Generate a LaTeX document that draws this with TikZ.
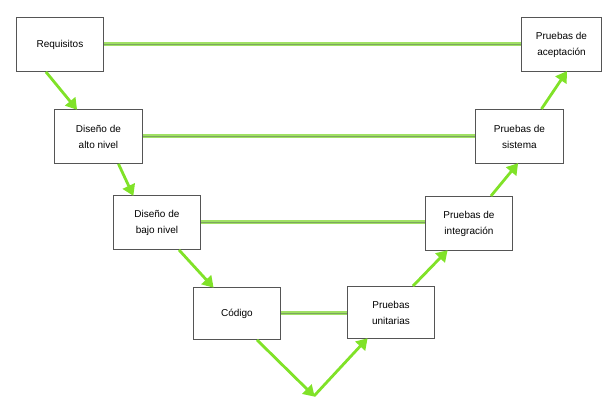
\documentclass[tikz,border=0pt]{standalone}
\usepackage{fontspec}
\setmainfont{Liberation Sans}
\usetikzlibrary{arrows.meta}
\definecolor{arrowgreen}{RGB}{128,226,40}
\definecolor{lineedge}{RGB}{160,225,100}
\definecolor{linecore}{RGB}{125,165,95}
\definecolor{boxline}{RGB}{85,85,85}
\tikzset{
  stage/.style={draw=boxline, line width=0.9pt, fill=white, align=center,
    font=\fontsize{10}{16}\selectfont, inner sep=0pt, anchor=north west},
  flow/.style={draw=arrowgreen, line width=2.8pt,
    -{Triangle[length=11pt,width=13pt]}, shorten >=-1pt},
  link/.style={draw=lineedge, line width=4pt},
  linkcore/.style={draw=linecore, line width=1.4pt},
}
\begin{document}
\begin{tikzpicture}[x=1pt,y=-1pt]
\useasboundingbox (0,0) rectangle (602,399);
\node[stage, minimum width=87pt, minimum height=54pt] (req) at (16,17) {Requisitos};
\node[stage, minimum width=80pt, minimum height=54pt] (acep) at (521,17) {Pruebas de\\aceptación};
\node[stage, minimum width=88pt, minimum height=54pt] (alto) at (54,109) {Diseño de\\alto nivel};
\node[stage, minimum width=88pt, minimum height=54pt] (sist) at (475,109) {Pruebas de\\sistema};
\node[stage, minimum width=87pt, minimum height=54pt] (bajo) at (113,195) {Diseño de\\bajo nivel};
\node[stage, minimum width=87pt, minimum height=54pt] (integ) at (425,196) {Pruebas de\\integración};
\node[stage, minimum width=87pt, minimum height=52pt] (cod) at (193,287) {Código};
\node[stage, minimum width=87pt, minimum height=52pt] (unit) at (347,286) {Pruebas\\unitarias};
\coordinate (v) at (314,396);
% links
\foreach \a/\b in {req/acep, alto/sist, bajo/integ, cod/unit}{
  \path[link] (\a.east) -- (\a.east -| \b.west);
  \path[linkcore] (\a.east) -- (\a.east -| \b.west);
}
% arrows
\path[flow] ([xshift=-14pt]req.south) -- ([xshift=-22pt]alto.north);
\path[flow] ([xshift=20pt]alto.south) -- ([xshift=-24pt]bajo.north);
\path[flow] ([xshift=22pt]bajo.south) -- ([xshift=-24pt]cod.north);
\path[flow] ([xshift=20pt]cod.south) -- (v);
\path[flow] (v) -- ([xshift=-24pt]unit.south);
\path[flow] ([xshift=22pt]unit.north) -- ([xshift=-22pt]integ.south);
\path[flow] ([xshift=22pt]integ.north) -- ([xshift=-2pt]sist.south);
\path[flow] ([xshift=22pt]sist.north) -- ([xshift=5pt]acep.south);
\end{tikzpicture}
\end{document}
